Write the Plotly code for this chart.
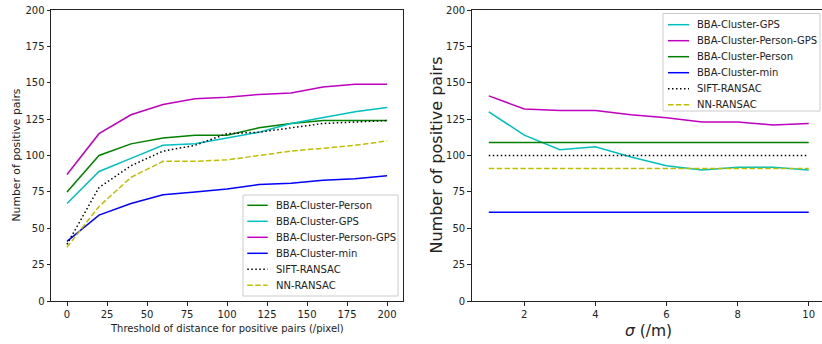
import plotly.graph_objects as go

# ---- Left panel data ----
threshold = [0, 20, 40, 60, 80, 100, 120, 140, 160, 180, 200]
left_person = [75, 100, 108, 112, 114, 114, 119, 122, 124, 124, 124]
left_gps = [67, 89, 98, 107, 108, 112, 116, 122, 126, 130, 133]
left_person_gps = [87, 115, 128, 135, 139, 140, 142, 143, 147, 149, 149]
left_min = [41, 59, 67, 73, 75, 77, 80, 81, 83, 84, 86]
left_sift = [39, 78, 93, 103, 107, 115, 116, 119, 122, 123, 124]
left_nn = [37, 65, 85, 96, 96, 97, 100, 103, 105, 107, 110]

# ---- Right panel data ----
sigma = [1, 2, 3, 4, 5, 6, 7, 8, 9, 10]
right_gps = [130, 114, 104, 106, 99, 93, 90, 92, 92, 90]
right_person_gps = [141, 132, 131, 131, 128, 126, 123, 123, 121, 122]
right_person = [109] * 10
right_min = [61] * 10
right_sift = [100] * 10
right_nn = [91] * 10

left_ticks_x = [0, 25, 50, 75, 100, 125, 150, 175, 200]
y_ticks = [0, 25, 50, 75, 100, 125, 150, 175, 200]
right_ticks_x = [2, 4, 6, 8, 10]

GREEN = "#008000"
CYAN = "#00bfbf"
MAGENTA = "#bf00bf"
BLUE = "#0000ff"
BLACK = "#000000"
YELLOW = "#bfbf00"
DOT = "1.5px,2.5px"
DASH = "5.5px,2.4px"
LW = 1.5

W, H = 822, 344
FONT = "DejaVu Sans"

fig = go.Figure()
left_entries = []
right_entries = []


def add(x, y, name, color, dash, xa, ya, entries):
    fig.add_trace(go.Scatter(
        x=x, y=y, name=name, mode="lines", showlegend=False,
        line=dict(color=color, width=LW, dash=dash),
        xaxis=xa, yaxis=ya))
    entries.append((name, color, dash))


add(threshold, left_person, "BBA-Cluster-Person", GREEN, "solid", "x", "y", left_entries)
add(threshold, left_gps, "BBA-Cluster-GPS", CYAN, "solid", "x", "y", left_entries)
add(threshold, left_person_gps, "BBA-Cluster-Person-GPS", MAGENTA, "solid", "x", "y", left_entries)
add(threshold, left_min, "BBA-Cluster-min", BLUE, "solid", "x", "y", left_entries)
add(threshold, left_sift, "SIFT-RANSAC", BLACK, DOT, "x", "y", left_entries)
add(threshold, left_nn, "NN-RANSAC", YELLOW, DASH, "x", "y", left_entries)

add(sigma, right_gps, "BBA-Cluster-GPS", CYAN, "solid", "x2", "y2", right_entries)
add(sigma, right_person_gps, "BBA-Cluster-Person-GPS", MAGENTA, "solid", "x2", "y2", right_entries)
add(sigma, right_person, "BBA-Cluster-Person", GREEN, "solid", "x2", "y2", right_entries)
add(sigma, right_min, "BBA-Cluster-min", BLUE, "solid", "x2", "y2", right_entries)
add(sigma, right_sift, "SIFT-RANSAC", BLACK, DOT, "x2", "y2", right_entries)
add(sigma, right_nn, "NN-RANSAC", YELLOW, DASH, "x2", "y2", right_entries)


def px(v):
    return v / W


def py(v):
    return 1 - v / H


shapes = []
annotations = []


def legend_box(entries, x0, x1, y0, y1, row0, line_x0, line_x1, text_x):
    shapes.append(dict(type="rect", xref="paper", yref="paper",
                       x0=px(x0), x1=px(x1), y0=py(y1), y1=py(y0),
                       line=dict(color="#cccccc", width=1),
                       fillcolor="rgba(255,255,255,0.8)", layer="above"))
    for i, (name, color, dash) in enumerate(entries):
        yc = row0 + 16 * i
        shapes.append(dict(type="line", xref="paper", yref="paper",
                           x0=px(line_x0), x1=px(line_x1), y0=py(yc), y1=py(yc),
                           line=dict(color=color, width=LW, dash=dash), layer="above"))
        annotations.append(dict(text=name, xref="paper", yref="paper",
                                x=px(text_x), y=py(yc), showarrow=False,
                                xanchor="left", yanchor="middle", borderpad=0,
                                font=dict(size=10, family=FONT, color="#222222")))


legend_box(left_entries, 243, 398, 195, 296, 205.3, 247.3, 267.7, 274.5)
legend_box(right_entries, 663, 820, 13.5, 111, 24.7, 668, 689, 696)

annotations += [
    dict(text="Threshold of distance for positive pairs (/pixel)", xref="paper",
         yref="paper", x=px(227), y=py(328), showarrow=False,
         xanchor="center", yanchor="middle", font=dict(size=10)),
    dict(text="Number of positive pairs", xref="paper", yref="paper",
         x=px(16), y=py(155.5), showarrow=False, textangle=-90,
         xanchor="center", yanchor="middle", font=dict(size=10.8)),
    dict(text="Number of positive pairs", xref="paper", yref="paper",
         x=px(436), y=py(155.5), showarrow=False, textangle=-90,
         xanchor="center", yanchor="middle", font=dict(size=16)),
    dict(text="<i>σ</i> (/m)", xref="paper", yref="paper",
         x=px(648.5), y=py(331), showarrow=False,
         xanchor="center", yanchor="middle", font=dict(size=15.5)),
]

ydom = [py(301), py(10)]

axis_common = dict(showgrid=False, zeroline=False, showline=True, linecolor="#222222",
                   linewidth=1, ticks="outside", ticklen=3.5, tickwidth=0.8,
                   tickcolor="#222222", automargin=False)

fig.update_layout(
    template="none",
    width=W, height=H,
    margin=dict(l=0, r=0, t=0, b=0, pad=0, autoexpand=False),
    paper_bgcolor="white", plot_bgcolor="white",
    font=dict(family=FONT, color="#222222", size=10),
    showlegend=False,
    xaxis=dict(domain=[px(51), px(403)], range=[-10, 210], tickvals=left_ticks_x,
               mirror=True, anchor="y", tickfont=dict(size=10), **axis_common),
    yaxis=dict(domain=ydom, range=[0, 200], tickvals=y_ticks, mirror=True, anchor="x",
               tickfont=dict(size=10), **axis_common),
    xaxis2=dict(domain=[px(471.7), 1.0], range=[0.52, 10.374], tickvals=right_ticks_x,
                mirror=True, anchor="y2", tickfont=dict(size=10), **axis_common),
    yaxis2=dict(domain=ydom, range=[0, 200], tickvals=y_ticks, mirror=False, anchor="x2",
                tickfont=dict(size=10), **axis_common),
    shapes=shapes,
    annotations=annotations,
)

fig.write_html(
    "out.html",
    config={"displayModeBar": False},
    post_script="document.body.style.margin='0';document.body.style.overflow='hidden';",
)
